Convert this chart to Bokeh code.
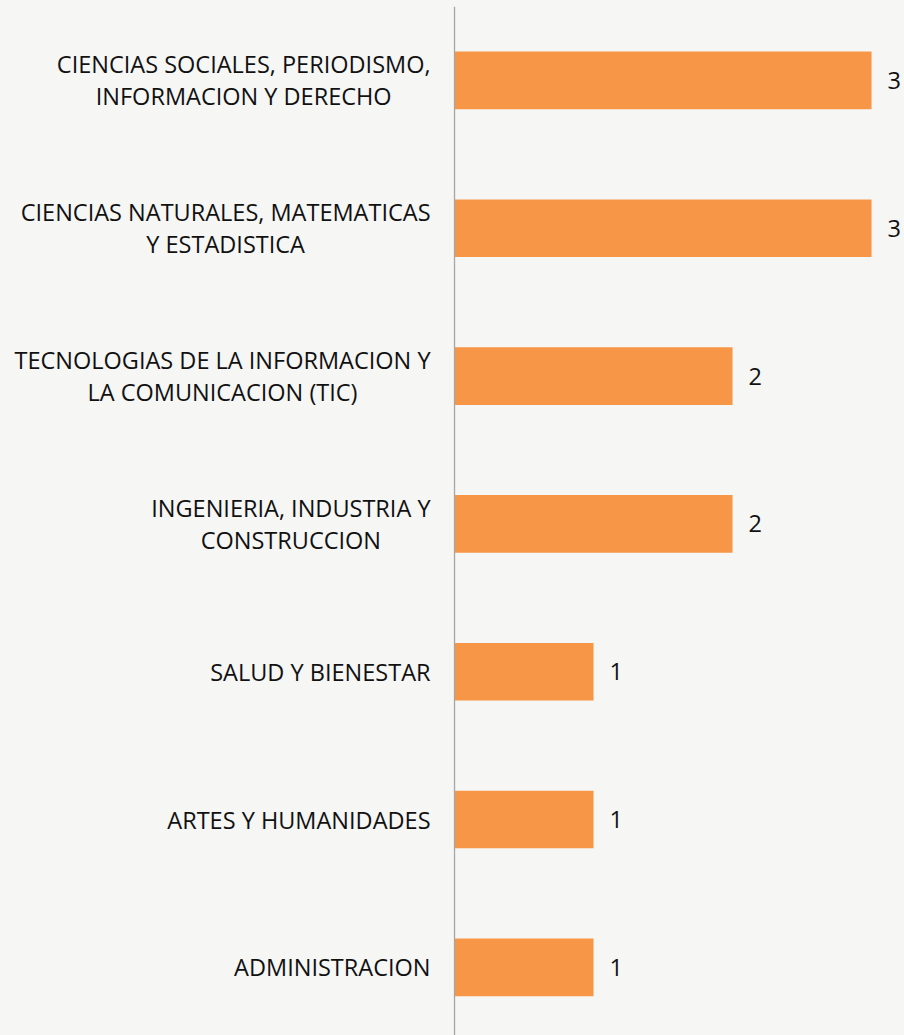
from bokeh.plotting import figure
from bokeh.models import ColumnDataSource, Range1d, LabelSet, Span
from bokeh.core.properties import value
from bokeh.embed import file_html
from bokeh.resources import INLINE
from jinja2 import Template

categories = [
    "CIENCIAS SOCIALES, PERIODISMO,\nINFORMACION Y DERECHO",
    "CIENCIAS NATURALES, MATEMATICAS\nY ESTADISTICA",
    "TECNOLOGIAS DE LA INFORMACION Y\nLA COMUNICACION (TIC)",
    "INGENIERIA, INDUSTRIA Y\nCONSTRUCCION",
    "SALUD Y BIENESTAR",
    "ARTES Y HUMANIDADES",
    "ADMINISTRACION",
]
values = [3, 3, 2, 2, 1, 1, 1]

positions = list(range(len(categories)))
src = ColumnDataSource(dict(y=positions, v=values, lbl=[str(v) for v in values],
                            cat=categories, zero=[0] * len(values)))

BG = "#f6f6f5"
FONT = "Open Sans"
FS = "23.5px"

p = figure(
    width=904, height=1035,
    x_range=Range1d(-3.266, 3.237),
    y_range=Range1d(6.461, -0.5),
    output_backend="svg", toolbar_location=None,
    min_border_left=0, min_border_right=0, min_border_top=6, min_border_bottom=0,
    background_fill_color=BG, border_fill_color=BG, outline_line_color=None,
)
p.xaxis.visible = False
p.yaxis.visible = False
p.xgrid.visible = False
p.ygrid.visible = False

p.hbar(y="y", right="v", left=0, height=0.39, source=src,
       fill_color="#f79646", line_color=None)

# category axis line
p.add_layout(Span(location=0, dimension="height", line_color="#a6a6a6", line_width=1.3))

# category labels (right-anchored block, centred lines)
p.text(x="zero", y="y", text="cat", source=src, x_offset=-24,
       anchor=value("center_right"), text_align="center", text_baseline="middle",
       text_font=value(FONT), text_font_size=value(FS), text_color="#111111",
       text_line_height=1.0)

labels = LabelSet(x="v", y="y", text="lbl", source=src, x_offset=16,
                  text_align="left", text_baseline="middle",
                  text_font=value(FONT), text_font_size=FS, text_color="#111111")
p.add_layout(labels)

template = Template("""{% extends base %}
{% block preamble %}<style>body{background:#f6f6f5;}</style>{% endblock %}""")

open("out.html", "w").write(file_html(p, INLINE, template=template))
